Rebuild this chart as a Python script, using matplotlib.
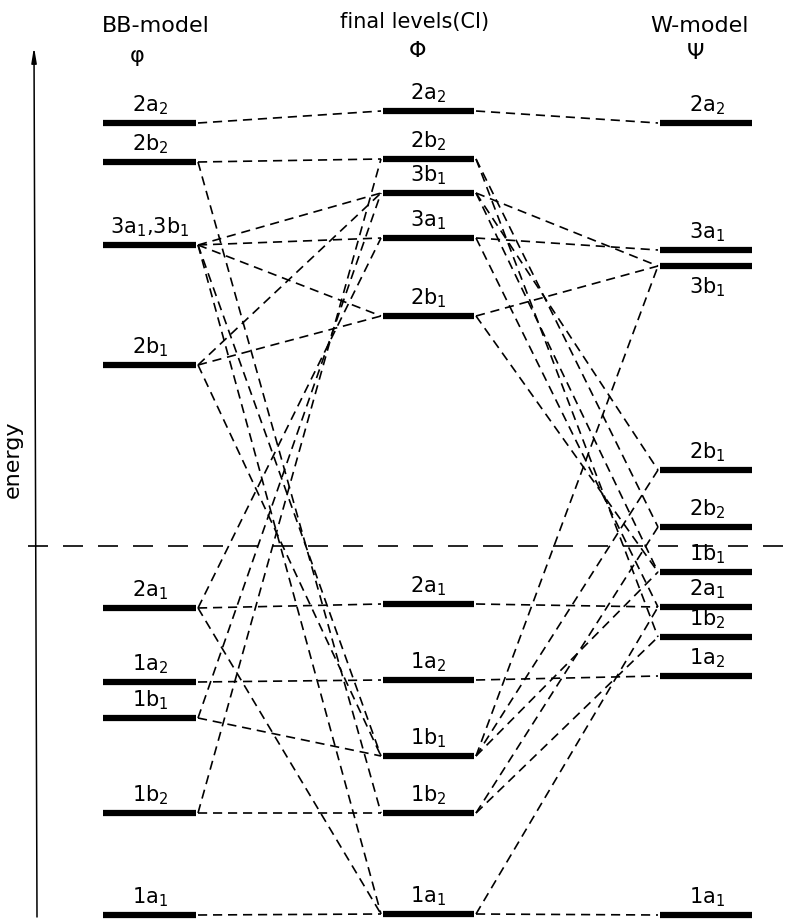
import matplotlib
matplotlib.use("Agg")
import matplotlib.pyplot as plt

# level energies (arbitrary units)
bb_labels = ["2a2", "2b2", "3a1,3b1", "2b1", "2a1", "1a2", "1b1", "1b2", "1a1"]
bb_energy = [796, 757, 674, 554, 311, 237, 201, 106, 4]

ci_labels = ["2a2", "2b2", "3b1", "3a1", "2b1", "2a1", "1a2", "1b1", "1b2", "1a1"]
ci_energy = [808, 760, 726, 681, 603, 315, 239, 163, 106, 5]

w_labels = ["2a2", "3a1", "3b1", "2b1", "2b2", "1b1", "2a1", "1b2", "1a2", "1a1"]
w_energy = [796, 669, 653, 449, 392, 347, 312, 282, 243, 4]

fermi_energy = 373

# correlation lines BB -> CI and CI -> W
bb_ci_links = [("2a2", "2a2"), ("2b2", "2b2"), ("2b2", "1b2"),
               ("3a1,3b1", "3b1"), ("3a1,3b1", "3a1"), ("3a1,3b1", "2b1"),
               ("3a1,3b1", "1b1"), ("3a1,3b1", "1a1"),
               ("2b1", "3b1"), ("2b1", "2b1"), ("2b1", "1b1"),
               ("2a1", "2a1"), ("2a1", "3a1"), ("2a1", "1a1"),
               ("1a2", "1a2"), ("1b1", "1b1"), ("1b1", "3b1"),
               ("1b2", "1b2"), ("1b2", "2b2"), ("1a1", "1a1")]
ci_w_links = [("2a2", "2a2"), ("2b2", "2b2"), ("2b2", "1b2"),
              ("3b1", "3b1"), ("3b1", "2b1"), ("3b1", "1b1"),
              ("3a1", "3a1"), ("3a1", "2a1"),
              ("2b1", "3b1"), ("2b1", "1b1"),
              ("2a1", "2a1"), ("1a2", "1a2"),
              ("1b1", "3b1"), ("1b1", "2b1"), ("1b1", "1b1"),
              ("1b2", "2b2"), ("1b2", "1b2"),
              ("1a1", "2a1"), ("1a1", "1a1")]

# labels drawn below the bar instead of above
w_below = ["3b1"]


def tex(name):
    # "2a1" -> 2a$_1$, "3a1,3b1" -> 3a$_1$,3b$_1$
    parts = []
    for p in name.split(","):
        parts.append(p[:-1] + "$_{" + p[-1] + "}$")
    return ",".join(parts)


fig = plt.figure(figsize=(7.96, 9.19), dpi=100)
ax = fig.add_axes([0, 0, 1, 1])
ax.set_xlim(0, 796)
ax.set_ylim(0, 919)
ax.axis("off")

cols = {
    "bb": (103, 196, 150, dict(zip(bb_labels, bb_energy))),
    "ci": (383, 474, 428, dict(zip(ci_labels, ci_energy))),
    "w": (660, 752, 707, dict(zip(w_labels, w_energy))),
}

dash = dict(color="black", lw=1.2, dashes=(5.5, 3.5))

# connections
bb, ci, w = cols["bb"], cols["ci"], cols["w"]
for a, b in bb_ci_links:
    ax.plot([bb[1] + 2, ci[0] - 2], [bb[3][a], ci[3][b]], **dash)
for a, b in ci_w_links:
    ax.plot([ci[1] + 2, w[0] - 2], [ci[3][a], w[3][b]], **dash)

# levels and labels
for key, (x0, x1, xc, levels) in cols.items():
    for name, e in levels.items():
        ax.plot([x0, x1], [e, e], color="black", lw=4.5, solid_capstyle="butt")
        if key == "w" and name in w_below:
            ax.text(xc, e - 9, tex(name), ha="center", va="top", fontsize=15)
        else:
            ax.text(xc, e + 6, tex(name), ha="center", va="bottom", fontsize=15)

# Fermi level line
ax.plot([28, 796], [fermi_energy, fermi_energy], color="black", lw=1.2,
        dashes=(12, 9))

# energy axis
ax.annotate("", xy=(34, 872), xytext=(37, 2),
            arrowprops=dict(arrowstyle="-|>,head_length=0.9,head_width=0.15",
                            color="black", lw=1.1, shrinkA=0, shrinkB=0))
ax.text(13, 460, "energy", rotation=90, ha="center", va="center", fontsize=16)

# column headers
ax.text(156, 893, "BB-model", ha="center", va="center", fontsize=16)
ax.text(137, 863, "φ", ha="center", va="center", fontsize=16)
ax.text(415, 897, "final levels(CI)", ha="center", va="center", fontsize=15)
ax.text(418, 868, "Φ", ha="center", va="center", fontsize=16)
ax.text(700, 893, "W-model", ha="center", va="center", fontsize=16)
ax.text(695, 866, "Ψ", ha="center", va="center", fontsize=16)

fig.savefig("out.png", dpi=100)
